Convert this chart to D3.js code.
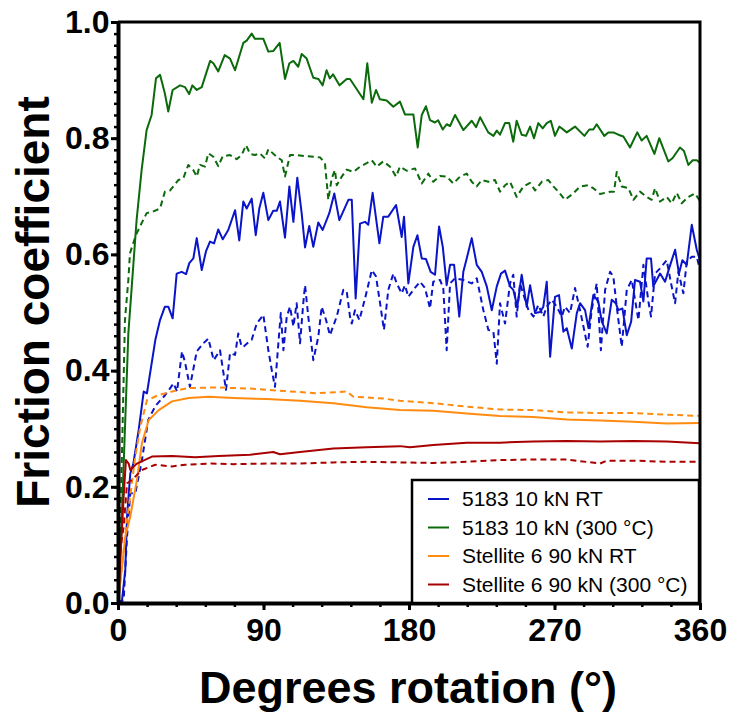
<!DOCTYPE html>
<html>
<head>
<meta charset="utf-8">
<script src="https://cdn.jsdelivr.net/npm/d3@7"></script>
<style>
  body { margin: 0; background: #fff; }
  svg { font-family: Arial, "Liberation Sans", sans-serif; }
  .axis path, .axis line { stroke: #000; }
  .axis text { font-weight: bold; font-size: 32px; fill: #000; }
  .curve { fill: none; stroke-width: 2; stroke-linejoin: round; }
</style>
</head>
<body>
<svg id="chart"></svg>
<script>
'use strict';

// [degrees, friction coefficient]
var alRT = [[0,0],[2.5,0.005],[4.5,0.057],[5.6,0.149],[7.6,0.223],[9.5,0.24],[12.8,0.298],[15.9,0.364],[17.9,0.361],[23.1,0.453],[26,0.487],[29,0.51],[31.1,0.51],[33.8,0.49],[36.3,0.567],[39.4,0.570],[42.1,0.566],[44.1,0.585],[46.6,0.593],[48.7,0.628],[51.8,0.573],[54.4,0.605],[56.9,0.622],[59.4,0.619],[62,0.643],[64.8,0.626],[68.2,0.642],[72.4,0.676],[75,0.624],[77.5,0.691],[79.6,0.679],[82.7,0.696],[85.2,0.633],[87.4,0.679],[89.9,0.706],[93,0.659],[96,0.675],[98.2,0.675],[100.2,0.691],[103.3,0.629],[106,0.717],[108.5,0.656],[110.9,0.732],[113.6,0.671],[115.7,0.612],[118.3,0.649],[120.8,0.613],[123.9,0.655],[126.6,0.642],[130.7,0.671],[133.8,0.705],[136.9,0.659],[142.5,0.694],[144.6,0.694],[147,0.524],[149.7,0.653],[152.8,0.656],[154.8,0.651],[157.5,0.706],[161.7,0.619],[164.1,0.665],[167.2,0.665],[172,0.685],[175.5,0.630],[176.9,0.665],[179.6,0.550],[182.7,0.613],[185.2,0.633],[187.9,0.593],[190.5,0.592],[193.4,0.570],[196.1,0.565],[198.6,0.648],[200.9,0.613],[203.3,0.547],[205.4,0.582],[207.9,0.582],[211.1,0.493],[213.6,0.570],[215.7,0.593],[218.8,0.628],[221.9,0.582],[225,0.570],[228.1,0.545],[231.2,0.504],[234.3,0.545],[236.9,0.567],[239.4,0.572],[242.5,0.545],[244.5,0.539],[247,0.510],[249.7,0.565],[252.8,0.510],[254.9,0.547],[258,0.499],[261.1,0.501],[263.1,0.510],[265.2,0.553],[267.3,0.424],[270.3,0.527],[272.8,0.530],[275.5,0.467],[277.6,0.473],[280.7,0.438],[283.8,0.499],[285.8,0.516],[288.9,0.504],[291,0.473],[294,0.530],[297.1,0.519],[299.2,0.485],[302.3,0.464],[305.4,0.522],[307.9,0.516],[309.5,0.504],[312,0.507],[314.7,0.461],[317.4,0.484],[319.8,0.556],[322.9,0.553],[325,0.519],[327,0.593],[329.7,0.593],[331.1,0.545],[335.3,0.567],[338.4,0.553],[340.9,0.576],[344.6,0.608],[347,0.567],[349.1,0.590],[351.8,0.582],[354.9,0.651],[358,0.608],[360,0.590]];
var alRTb = [[0,0],[3.5,0.005],[5.6,0.114],[7.6,0.189],[10.7,0.189],[14.8,0.246],[18.7,0.315],[23.1,0.339],[29.2,0.358],[34.4,0.378],[36.5,0.364],[39.6,0.433],[41.4,0.415],[44.5,0.372],[48.7,0.433],[52.8,0.447],[55.9,0.455],[59.2,0.418],[63.1,0.435],[66.8,0.367],[69.3,0.430],[72.4,0.427],[74.4,0.464],[76.5,0.441],[77.9,0.442],[80,0.447],[82.7,0.453],[85.8,0.481],[89.9,0.496],[93,0.435],[95.1,0.401],[97.1,0.372],[99.2,0.447],[100.7,0.499],[102.3,0.435],[104.4,0.493],[106.4,0.510],[108.5,0.476],[110.5,0.516],[112.6,0.447],[114.6,0.516],[115.7,0.547],[117.7,0.493],[120.8,0.418],[123.9,0.458],[126,0.510],[128.7,0.487],[131.1,0.461],[135.3,0.493],[139.4,0.539],[141.5,0.536],[143.5,0.493],[144.6,0.481],[146.6,0.504],[149.3,0.487],[152.8,0.524],[157,0.573],[159.6,0.562],[162.1,0.516],[164.5,0.470],[167.2,0.539],[170.3,0.567],[172.4,0.550],[175.5,0.533],[177.5,0.547],[179.6,0.527],[182.7,0.539],[186.8,0.553],[189.9,0.542],[193,0.507],[195,0.553],[199.2,0.556],[201.2,0.542],[203.3,0.435],[205.4,0.550],[208.5,0.559],[213.6,0.556],[218.8,0.550],[221.9,0.559],[226,0.504],[229.1,0.470],[232.2,0.467],[234.3,0.412],[236.3,0.516],[239.4,0.481],[242.5,0.550],[244.5,0.565],[246.6,0.493],[248.7,0.550],[251.8,0.522],[253.9,0.504],[257,0.493],[260,0.513],[263.1,0.493],[265.2,0.510],[268.3,0.522],[271.4,0.510],[274.5,0.493],[276.5,0.510],[279.6,0.499],[282.7,0.542],[285.8,0.504],[290.5,0.441],[293,0.504],[296.1,0.550],[298.7,0.435],[301.3,0.539],[304.4,0.570],[306.4,0.562],[308.5,0.510],[311.6,0.441],[314.7,0.539],[317.8,0.556],[321.9,0.487],[325,0.582],[328.1,0.519],[329.7,0.493],[332.2,0.567],[335.3,0.576],[339.4,0.590],[342.1,0.550],[344.6,0.516],[346.6,0.570],[349.7,0.533],[351.8,0.587],[354.9,0.596],[358,0.596],[360,0.573]];
var alHot = [[0,0],[2,0.12],[4.3,0.30],[6.4,0.464],[8.5,0.544],[11.5,0.659],[14.6,0.745],[17.7,0.814],[20.8,0.840],[23.5,0.903],[26,0.909],[29,0.877],[31.1,0.846],[33.8,0.883],[38.4,0.891],[41.4,0.888],[44,0.876],[46,0.891],[48.7,0.883],[51.8,0.888],[57,0.933],[59,0.929],[62,0.915],[66,0.943],[69.3,0.937],[72.4,0.917],[77.5,0.964],[79.6,0.968],[82.7,0.980],[84.7,0.971],[89.9,0.971],[93,0.949],[96,0.95],[100,0.964],[103.3,0.902],[106,0.929],[108.5,0.933],[111.5,0.923],[113.6,0.945],[116.7,0.937],[120.8,0.904],[124,0.902],[126.6,0.891],[129,0.917],[131,0.903],[133,0.910],[137,0.891],[141.5,0.902],[143.5,0.902],[151.8,0.867],[154.2,0.929],[157,0.861],[159.6,0.883],[162,0.867],[166.2,0.865],[170.3,0.854],[174.4,0.863],[177.5,0.841],[182.7,0.841],[185.4,0.784],[187.9,0.840],[190.5,0.855],[193,0.831],[196,0.827],[198,0.831],[200.9,0.815],[203.3,0.824],[205.4,0.821],[208.5,0.840],[213.6,0.814],[218.8,0.830],[221.5,0.819],[224,0.836],[229,0.810],[232.2,0.804],[234.3,0.813],[236.3,0.806],[239.4,0.826],[242,0.826],[244.5,0.794],[246.6,0.830],[249.7,0.806],[252.4,0.804],[254.9,0.820],[257.3,0.800],[260,0.826],[262.7,0.817],[265.2,0.826],[267.7,0.830],[270.3,0.804],[273,0.820],[277.6,0.810],[282.7,0.820],[288.5,0.804],[291.5,0.815],[294,0.815],[296.1,0.824],[300.8,0.804],[303.3,0.810],[306.4,0.810],[309.5,0.806],[312.6,0.803],[316.7,0.784],[321.2,0.810],[323.9,0.796],[327,0.804],[331.8,0.773],[334.8,0.800],[340.4,0.760],[343.1,0.766],[347.6,0.784],[350.1,0.778],[352.8,0.754],[355.5,0.762],[358,0.762],[360,0.758]];
var alHotb = [[0,0],[2,0.2],[4.3,0.487],[6.4,0.556],[7.4,0.602],[9.5,0.62],[11.5,0.636],[13.6,0.648],[17.7,0.671],[21.9,0.674],[26,0.679],[29,0.708],[32.2,0.710],[37.3,0.728],[40.4,0.731],[43.5,0.754],[46.6,0.745],[48.7,0.734],[50.7,0.754],[53.8,0.751],[55.9,0.774],[59,0.768],[62,0.752],[64.8,0.769],[69.3,0.771],[73.4,0.764],[76.5,0.771],[79.2,0.788],[81.7,0.773],[84.7,0.771],[87.8,0.774],[90.9,0.765],[93,0.781],[98.2,0.768],[101.3,0.762],[103.3,0.734],[106.4,0.771],[110.5,0.771],[116.7,0.769],[125,0.767],[128,0.757],[130.1,0.694],[132.2,0.731],[134.2,0.745],[135.3,0.719],[138.4,0.734],[141.5,0.746],[145.6,0.742],[149.7,0.751],[153.8,0.757],[157,0.762],[160,0.751],[164.1,0.760],[168.3,0.751],[172,0.734],[174.4,0.751],[178.6,0.744],[183.7,0.748],[187.9,0.722],[192,0.739],[195,0.725],[199.2,0.735],[203.3,0.734],[207.4,0.722],[211.6,0.734],[215.7,0.739],[218.8,0.725],[221.9,0.717],[225,0.728],[229.1,0.725],[233.2,0.728],[236.3,0.708],[239.4,0.719],[242.5,0.725],[246.6,0.699],[250.8,0.717],[254.9,0.723],[258,0.710],[262.1,0.725],[266.2,0.728],[269.3,0.717],[272.4,0.708],[276.5,0.694],[281.6,0.705],[285.8,0.717],[290.9,0.719],[294,0.714],[298.2,0.704],[304.4,0.708],[306.8,0.708],[308.5,0.742],[311.6,0.717],[315.7,0.714],[318.8,0.694],[322.9,0.708],[327,0.699],[330.1,0.694],[332.2,0.714],[335.3,0.691],[339.4,0.699],[342.5,0.688],[345.6,0.706],[348.7,0.688],[352.8,0.699],[356.9,0.705],[360,0.692]];
var stRT = [[0,0],[4.5,0.114],[7.6,0.149],[11.7,0.212],[14.8,0.275],[19,0.315],[25.2,0.332],[33.4,0.347],[43.7,0.353],[56.1,0.355],[71.3,0.353],[92,0.351],[112.6,0.348],[133.2,0.344],[153.8,0.337],[174.4,0.332],[195,0.331],[215.7,0.326],[236.3,0.322],[256.9,0.320],[277.6,0.316],[298.2,0.314],[318.8,0.312],[339.4,0.309],[360,0.310]];
var stRTb = [[0,0],[5.6,0.143],[10.7,0.252],[13.8,0.303],[17.9,0.349],[25.2,0.358],[33.4,0.364],[43.7,0.370],[61,0.371],[81.7,0.369],[102.3,0.365],[122.9,0.361],[141.5,0.364],[145.6,0.355],[164.1,0.352],[174.4,0.348],[195,0.344],[215.7,0.338],[236.3,0.333],[257,0.332],[277.6,0.328],[298.2,0.327],[318.8,0.327],[339.4,0.324],[360,0.322]];
var stHot = [[0,0],[3.5,0.183],[4.9,0.246],[6.6,0.240],[7.6,0.229],[11.7,0.240],[21,0.252],[33.4,0.253],[47.8,0.251],[62.3,0.253],[81.7,0.255],[96,0.260],[100.2,0.256],[112.6,0.260],[133.2,0.266],[153.8,0.268],[174.4,0.270],[180.6,0.268],[195,0.272],[215.7,0.276],[236.3,0.276],[257,0.278],[277.6,0.279],[298.2,0.278],[318.8,0.279],[339.4,0.278],[360,0.275]];
var stHotb = [[0,0],[1.4,0.091],[3.5,0.131],[5.6,0.206],[8.7,0.212],[14.8,0.229],[23.1,0.238],[33.4,0.235],[41.6,0.238],[58.1,0.240],[71.3,0.239],[92,0.240],[112.6,0.240],[133.2,0.242],[153.8,0.243],[174.4,0.242],[195,0.241],[215.7,0.243],[236.3,0.246],[257,0.247],[277.6,0.247],[298.2,0.240],[302.3,0.245],[318.8,0.245],[339.4,0.243],[360,0.243]];

var legendNames = ['5183 10 kN RT', '5183 10 kN (300 \u00B0C)', 'Stellite 6 90 kN RT', 'Stellite 6 90 kN (300 \u00B0C)'];
var colors = ['#0a14c8', '#0b6a0b', '#ff8c10', '#a80000'];
var xTicks = [0, 90, 180, 270, 360];
var yTicks = [0, 0.2, 0.4, 0.6, 0.8, 1.0];

var series = [
  {data: alRTb, c: 0, dash: true}, {data: alRT, c: 0},
  {data: alHotb, c: 1, dash: true}, {data: alHot, c: 1},
  {data: stRTb, c: 2, dash: true}, {data: stRT, c: 2},
  {data: stHotb, c: 3, dash: true}, {data: stHot, c: 3}
];

var width = 729, height = 715,
  margin = {top: 22, left: 118, right: 29, bottom: 112};
var w = width - margin.left - margin.right,
  h = height - margin.top - margin.bottom;

var svg = d3.select('#chart').attr('width', width).attr('height', height);
var g = svg.append('g')
  .attr('transform', 'translate(' + margin.left + ',' + margin.top + ')');

var x = d3.scaleLinear().domain([0, 360]).range([0, w]);
var y = d3.scaleLinear().domain([0, 1]).range([h, 0]);

g.append('clipPath').attr('id', 'clip')
  .append('rect').attr('x', 0).attr('y', -2).attr('width', w).attr('height', h + 2);

var line = d3.line()
  .x(function (d) { return x(d[0]); })
  .y(function (d) { return y(d[1]); });

g.append('g').attr('clip-path', 'url(#clip)')
  .selectAll('path').data(series).enter()
  .append('path')
  .classed('curve', true)
  .attr('stroke', function (d) { return colors[d.c]; })
  .attr('stroke-dasharray', function (d) { return d.dash ? '6,4' : null; })
  .attr('d', function (d) { return line(d.data); });

// frame top and right
g.append('path')
  .attr('d', 'M0,0H' + w + 'V' + h)
  .attr('fill', 'none').attr('stroke', '#000').attr('stroke-width', 3);

// minor ticks
var yMinor = d3.range(0, 51).map(function (i) { return i / 50; });
var xMinor = d3.range(0, 21).map(function (i) { return i * 18; });

g.append('g').attr('class', 'axis')
  .call(d3.axisLeft(y).tickValues(yMinor).tickSize(4).tickFormat(''))
  .call(function (s) { s.select('.domain').remove(); s.selectAll('line').attr('stroke-width', 2.5); });
g.append('g').attr('class', 'axis')
  .attr('transform', 'translate(0,' + h + ')')
  .call(d3.axisBottom(x).tickValues(xMinor).tickSize(4).tickFormat(''))
  .call(function (s) { s.select('.domain').remove(); s.selectAll('line').attr('stroke-width', 2.5); });

g.append('g').attr('class', 'axis')
  .call(d3.axisLeft(y).tickValues(yTicks).tickSize(7).tickPadding(1.5).tickSizeOuter(0)
    .tickFormat(d3.format('.1f')))
  .call(function (s) {
    s.select('.domain').attr('stroke-width', 4);
    s.selectAll('line').attr('stroke-width', 3);
  });

g.append('g').attr('class', 'axis')
  .attr('transform', 'translate(0,' + h + ')')
  .call(d3.axisBottom(x).tickValues(xTicks).tickSize(7).tickPadding(8).tickSizeOuter(0))
  .call(function (s) {
    s.select('.domain').attr('stroke-width', 4);
    s.selectAll('line').attr('stroke-width', 3);
  });

// axis titles
svg.append('text')
  .attr('x', margin.left + w / 2 - 1)
  .attr('y', 703)
  .attr('text-anchor', 'middle')
  .style('font-weight', 'bold').style('font-size', '45px')
  .text('Degrees rotation (\u00B0)');

svg.append('text')
  .attr('transform', 'translate(49,' + (margin.top + 280) + ') rotate(-90)')
  .attr('text-anchor', 'middle')
  .style('font-weight', 'bold').style('font-size', '46px')
  .text('Friction coefficient');

// legend
var lg = svg.append('g').attr('transform', 'translate(412,480)');
lg.append('rect')
  .attr('width', 287).attr('height', 123)
  .attr('fill', '#fff').attr('stroke', '#000').attr('stroke-width', 2.5);

lg.selectAll('g.item').data(legendNames).enter()
  .append('g')
  .classed('item', true)
  .attr('transform', function (d, i) { return 'translate(0,' + (26 + i * 28.5) + ')'; })
  .each(function (d, i) {
    var it = d3.select(this);
    it.append('line')
      .attr('x1', 16).attr('x2', 37).attr('y1', -7).attr('y2', -7)
      .attr('stroke', colors[i]).attr('stroke-width', 2);
    it.append('text')
      .attr('x', 50).attr('y', 0)
      .style('font-size', '21px')
      .text(d);
  });
</script>
</body>
</html>
